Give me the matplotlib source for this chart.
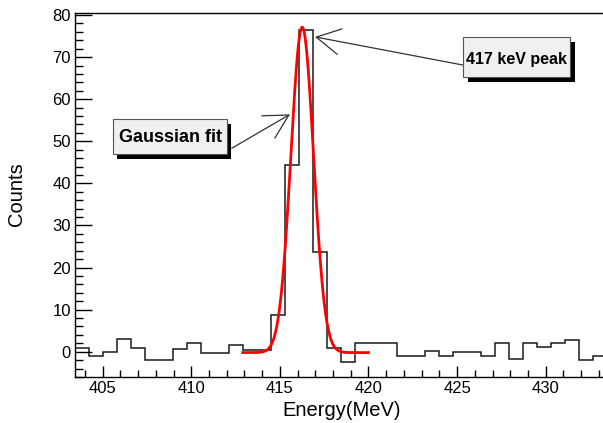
import numpy as np
import matplotlib
matplotlib.use("Agg")
import matplotlib.pyplot as plt
from matplotlib.patches import Rectangle
from matplotlib.ticker import MultipleLocator

plt.rcParams['font.family'] = ['Liberation Sans', 'DejaVu Sans']

# Histogram: first bin edge, bin width and counts per bin
bin_start = 403.45
bin_width = 0.79
counts = [1.0, -1.0, 0.0, 3.0, 1.0, -2.0, -2.0, 0.6, 2.0, -0.4,
          -0.4, 1.6, 0.4, 0.4, 8.7, 44.4, 76.4, 23.6, 0.8, -2.4,
          2.0, 2.0, 2.0, -1.0, -1.0, 0.2, -1.0, 0.0, 0.0, -1.0,
          2.1, -1.8, 2.1, 1.2, 2.1, 2.9, -2.0, -1.0]

# Gaussian fit parameters and fit range
fit_amp = 77.3
fit_mean = 416.26
fit_sigma = 0.64
fit_const = -0.2
fit_range = (412.9, 420.0)

x_ticks = [405, 410, 415, 420, 425, 430]
y_ticks = [0, 10, 20, 30, 40, 50, 60, 70, 80]

W, H = 603, 423
fig = plt.figure(figsize=(W / 100, H / 100), dpi=100)


def fx(px):
    return px / W


def fy(py):
    return 1 - py / H


ax = fig.add_axes([fx(75), fy(377), fx(606 - 75), (377 - 12.7) / H])
ax.set_xlim(403.437, 403.437 + (606 - 75) / 17.72)
ax.set_ylim(-6.0, 80.55)

edges = bin_start + bin_width * np.arange(len(counts) + 1)
ax.stairs(counts, edges, baseline=None, color='#1a1a1a', lw=1.1)

xf = np.linspace(fit_range[0], fit_range[1], 400)
yf = fit_amp * np.exp(-0.5 * ((xf - fit_mean) / fit_sigma) ** 2) + fit_const
ax.plot(xf, yf, color='red', lw=2.0)

for s in ['top', 'left', 'bottom']:
    ax.spines[s].set_linewidth(1.0)
    ax.spines[s].set_color('black')
ax.spines['right'].set_visible(False)

ax.set_xticks(x_ticks)
ax.set_xticklabels([str(v) for v in x_ticks])
ax.set_yticks(y_ticks)
ax.set_yticklabels([str(v) for v in y_ticks])
ax.xaxis.set_minor_locator(MultipleLocator(1))
ax.yaxis.set_minor_locator(MultipleLocator(2))
ax.tick_params(axis='x', which='major', direction='in', length=8, width=1,
               labelsize=12, pad=3, top=False)
ax.tick_params(axis='x', which='minor', direction='in', length=4.7, width=1,
               top=False)
ax.tick_params(axis='y', which='major', direction='in', length=12, width=1,
               labelsize=12, pad=3, right=False)
ax.tick_params(axis='y', which='minor', direction='in', length=6, width=1,
               right=False)

fig.text(fx(342), fy(416), 'Energy(MeV)', fontsize=14.5, ha='center',
         va='baseline')
fig.text(fx(16.7), fy(193.7), 'Counts', fontsize=14.5, rotation=90,
         ha='center', va='center')


def label_box(x0, y0, x1, y1, text, tx, ty, size):
    shadow = Rectangle((fx(x0 + 4.5), fy(y1 + 5)), fx(x1 - x0), (y1 - y0) / H,
                       transform=fig.transFigure, facecolor='black',
                       edgecolor='none', zorder=5)
    box = Rectangle((fx(x0), fy(y1)), fx(x1 - x0), (y1 - y0) / H,
                    transform=fig.transFigure, facecolor='#f0f0f0',
                    edgecolor='#555555', lw=0.8, zorder=6)
    fig.add_artist(shadow)
    fig.add_artist(box)
    fig.text(fx(tx), fy(ty), text, fontsize=size, fontweight='bold',
             ha='center', va='baseline', zorder=7)


def pointer(tip, tail_px):
    ax.annotate('', xy=tip, xycoords='data',
                xytext=(fx(tail_px[0]), fy(tail_px[1])),
                textcoords='figure fraction',
                arrowprops=dict(arrowstyle='->,head_length=1.71,head_width=0.93',
                                mutation_scale=10, lw=0.9, color='#333333',
                                shrinkA=0, shrinkB=0))


pointer((415.57, 56.4), (231.7, 148.3))
pointer((416.98, 74.8), (462.7, 65.0))

label_box(112.7, 119.0, 226.7, 154.3, 'Gaussian fit', 170.3, 142.3, 13)
label_box(463.3, 36.7, 570.0, 76.7, '417 keV peak', 516.7, 64.0, 11.5)

fig.savefig('out.png', dpi=100)
